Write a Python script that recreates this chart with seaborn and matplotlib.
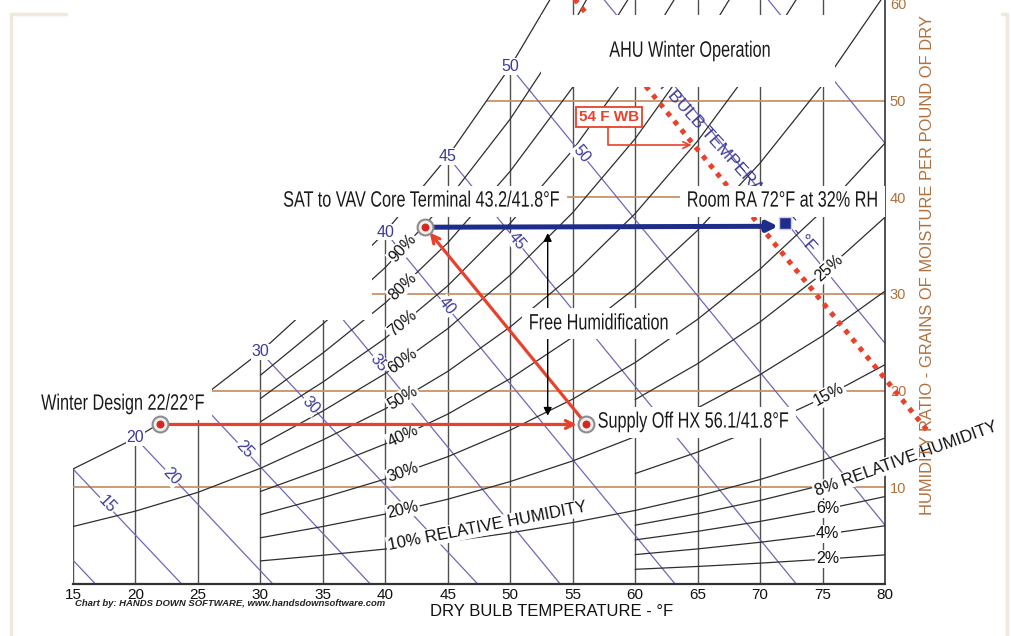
import numpy as np
import pandas as pd
import matplotlib
matplotlib.use("Agg")
import matplotlib.pyplot as plt
import seaborn as sns
from matplotlib.patches import Rectangle
from matplotlib.lines import Line2D
from matplotlib.patheffects import AbstractPathEffect
from matplotlib.transforms import Affine2D

# ---------------- data ----------------
sat_db = [15, 20, 25, 30, 35, 40, 45, 50, 55, 60, 65, 70, 75, 80]          # dry bulb, F
sat_gr = [11.9, 15.1, 19.0, 24.0, 29.9, 36.4, 44.2, 53.5, 64.4, 77.3, 92.6, 110.5, 131.4, 155.8]  # grains at saturation

rh_levels = [100, 90, 80, 70, 60, 50, 40, 30, 25, 20, 15, 10, 8, 6, 4, 2]
rh_start_db = [15, 30, 30, 30, 30, 15, 30, 30, 60, 30, 60, 30, 60, 60, 60, 60]

wb_values = [10, 15, 20, 25, 30, 35, 40, 45, 50, 55, 60]
wb_start_gr = [9.3, 11.9, 15.1, 19.0, 24.0, 29.9, 36.4, 44.2, 53.5, 64.4, 77.3]
wb_end_db = [16.8, 23.7, 31.0, 38.8, 47.4, 54.0, 63.2, 72.9, 80.0, 80.0, 80.0]
wb_end_gr = [0, 0, 0, 0, 0, 0, 0, 0, 6.1, 24.9, 45.6]

db_ticks = [15, 20, 25, 30, 35, 40, 45, 50, 55, 60, 65, 70, 75, 80]
gr_lines = [10, 20, 30, 40, 50]
gr_ticks = [10, 20, 30, 40, 50, 60]

rh_left_labels = [90, 80, 70, 60, 50, 40, 30, 20]
rh_right_rot_labels = [25, 15]
rh_right_flat_labels = [6, 4, 2]

wb_sat_labels = [20, 30, 40, 45, 50]
wb_mid_labels = [15, 20, 25, 30, 35, 40, 45, 50]
wb_mid_db = [17.7, 22.9, 28.7, 34.0, 39.5, 44.9, 50.5, 55.7]

# process points: winter design, supply off HX, SAT, room RA
proc_names = ["Winter Design", "Supply Off HX", "SAT", "Room RA"]
proc_db = [22.0, 56.1, 43.2, 72.0]
proc_gr = [16.5, 16.5, 36.9, 37.0]

# 54 F wet-bulb (dotted) line
wb54_db = [54.2, 83.5]
wb54_gr = [62.0, 15.7]

# ---------------- style ----------------
sns.set_theme(style="white")
plt.rcParams["font.family"] = ["Liberation Sans", "DejaVu Sans"]

C_DB = "#505050"
C_RH = "#2e2e2e"
C_WB = "#6f68b8"
C_WBTXT = "#3d3a9a"
C_BROWN = "#c8936c"
C_BROWNTXT = "#b0703c"
C_RED = "#e8412c"
C_NAVY = "#1f2d8a"

fig = plt.figure(figsize=(10.11, 6.36), dpi=100, facecolor="white")
ax = fig.add_axes([73 / 1011, 52 / 636, 812 / 1011, 584 / 636])
ax.set_xlim(15, 80)
ax.set_ylim(0, 60.4)
ax.set_facecolor("white")


def rh_w(db, rh):
    ws = np.interp(db, sat_db, sat_gr)
    phi = rh / 100.0
    return phi * ws / (1 + (1 - phi) * ws / 4354.0)


def disp_angle(x0, y0, x1, y1):
    (a, b), (c, d) = ax.transData.transform([(x0, y0), (x1, y1)])
    return np.degrees(np.arctan2(d - b, c - a))


# ---- dry bulb verticals ----
rows = []
for d in db_ticks[:-1]:
    top = min(np.interp(d, sat_db, sat_gr), 60.4)
    rows += [(d, 0.0, d), (d, top, d)]
df_db = pd.DataFrame(rows, columns=["db", "gr", "line"])
sns.lineplot(data=df_db, x="db", y="gr", units="line", estimator=None, sort=False,
             color=C_DB, lw=1.0, legend=False, ax=ax, zorder=1)

# ---- humidity ratio horizontals ----
rows = []
for g in gr_lines:
    start = np.interp(g, sat_gr, sat_db)
    rows += [(start, g, g), (80, g, g)]
df_gr = pd.DataFrame(rows, columns=["db", "gr", "line"])
sns.lineplot(data=df_gr, x="db", y="gr", units="line", estimator=None, sort=False,
             color=C_BROWN, lw=1.3, legend=False, ax=ax, zorder=1.2)

# ---- relative humidity curves ----
rows = []
for rh, st in zip(rh_levels, rh_start_db):
    for d in sat_db:
        if d >= st:
            rows.append((d, rh_w(d, rh), rh))
df_rh = pd.DataFrame(rows, columns=["db", "gr", "rh"])
sns.lineplot(data=df_rh, x="db", y="gr", units="rh", estimator=None, sort=False,
             color=C_RH, lw=0.9, legend=False, ax=ax, zorder=1.5)

# ---- wet bulb lines ----
rows = []
for wb, s, ed, eg in zip(wb_values, wb_start_gr, wb_end_db, wb_end_gr):
    rows += [(wb, s, wb), (ed, eg, wb)]
df_wb = pd.DataFrame(rows, columns=["db", "gr", "wb"])
sns.lineplot(data=df_wb, x="db", y="gr", units="wb", estimator=None, sort=False,
             color=C_WB, lw=0.9, legend=False, ax=ax, zorder=1.4)

# axes cosmetics (after seaborn, which sets axis labels)
ax.set_xlabel("")
ax.set_ylabel("")
for s in ["left", "top"]:
    ax.spines[s].set_visible(False)
ax.spines["bottom"].set_color("#333333")
ax.spines["bottom"].set_linewidth(1.6)
ax.spines["right"].set_color("#333333")
ax.spines["right"].set_linewidth(1.2)
ax.set_xticks(db_ticks)
ax.set_xticklabels([str(v) for v in db_ticks], fontsize=11, color="#111111")
ax.tick_params(axis="x", length=0, pad=3)
ax.yaxis.tick_right()
ax.set_yticks(gr_ticks)
ax.set_yticklabels([str(v) for v in gr_ticks], fontsize=10.5)
ax.tick_params(axis="y", length=0, pad=3.5, labelcolor=C_BROWNTXT)

# ---- WET BULB TEMPERATURE text (under title mask) ----
ang54 = disp_angle(wb54_db[0], wb54_gr[0], wb54_db[1], wb54_gr[1])
ax.text(67.4, 44.3, "WET BULB TEMPERATURE - °F", color=C_WBTXT, fontsize=12.5,
        rotation=ang54 + 3, rotation_mode="anchor", ha="center", va="center", zorder=2.4)

# ---- 54 F WB dotted line ----
ax.plot(wb54_db, wb54_gr, color=C_RED, lw=3.6, linestyle=(0, (1, 1.25)),
        dash_capstyle="butt", clip_on=False, zorder=2.9)

# ---- white masks (blank regions of the original chart) ----
ax.add_patch(Rectangle((15, 27.3), 23.9, 40, fc="white", ec="none", zorder=3))
ax.add_patch(Rectangle((52.5, 51.4), 23.5, 7.4, fc="white", ec="none", zorder=3))

# ---- RH labels ----
lbl_box = dict(boxstyle="square,pad=0.08", fc="white", ec="none")
for rh in rh_left_labels:
    x = 41.4
    a = disp_angle(x - 0.5, rh_w(x - 0.5, rh), x + 0.5, rh_w(x + 0.5, rh))
    ax.text(x, rh_w(x, rh), f"{rh}%", fontsize=11.5, color="#111111", rotation=a,
            rotation_mode="anchor", ha="center", va="center", bbox=lbl_box, zorder=4)
for rh in rh_right_rot_labels:
    x = 75.5
    a = disp_angle(x - 0.5, rh_w(x - 0.5, rh), x + 0.5, rh_w(x + 0.5, rh))
    ax.text(x, rh_w(x, rh), f"{rh}%", fontsize=11.5, color="#111111", rotation=a,
            rotation_mode="anchor", ha="center", va="center", bbox=lbl_box, zorder=4)
for rh in rh_right_flat_labels:
    x = 75.4
    ax.text(x, rh_w(x, rh), f"{rh}%", fontsize=11.5, color="#111111",
            ha="center", va="center", bbox=lbl_box, zorder=4)

a10 = disp_angle(40, rh_w(40, 10), 55, rh_w(55, 10))
ax.text(40.2, rh_w(40.2, 10) + 0.3, "10% RELATIVE HUMIDITY", fontsize=12, color="#111111",
        rotation=a10 + 3, rotation_mode="anchor", ha="left", va="center", bbox=lbl_box, zorder=4)
a8 = disp_angle(75, rh_w(75, 8), 80, rh_w(80, 8))
ax.text(74.4, rh_w(74.4, 8) - 0.5, "8% RELATIVE HUMIDITY", fontsize=12, color="#111111",
        rotation=a8 + 4, rotation_mode="anchor", ha="left", va="center", bbox=lbl_box,
        clip_on=False, zorder=2.6)

# ---- wet bulb labels ----
wbox = dict(boxstyle="square,pad=0.05", fc="white", ec="none")
for wb in wb_sat_labels:
    i = wb_values.index(wb)
    ax.text(wb, wb_start_gr[i], str(wb), fontsize=11.5, color=C_WBTXT,
            ha="center", va="center", bbox=wbox, zorder=2.95)
for wb, xd in zip(wb_mid_labels, wb_mid_db):
    i = wb_values.index(wb)
    x0, y0, x1, y1 = wb, wb_start_gr[i], wb_end_db[i], wb_end_gr[i]
    yv = y0 + (y1 - y0) * (xd - x0) / (x1 - x0)
    a = disp_angle(x0, y0, x1, y1)
    ax.text(xd, yv, str(wb), fontsize=11.5, color=C_WBTXT, rotation=a,
            rotation_mode="anchor", ha="center", va="center", bbox=wbox, zorder=2.95)

# ---- right axis title ----
ax.text(928 / 1011, 1 - 515 / 636, "HUMIDITY RATIO - GRAINS OF MOISTURE PER POUND OF DRY",
        transform=fig.transFigure, rotation=90, rotation_mode="anchor", ha="left", va="center",
        fontsize=11.9, color=C_BROWNTXT, clip_on=False, zorder=2.7)

# ---- process lines ----
ax.annotate("", xy=(proc_db[1], proc_gr[1]), xytext=(proc_db[0], proc_gr[0]),
            arrowprops=dict(arrowstyle="->", color=C_RED, lw=2.3, shrinkA=6, shrinkB=7,
                            mutation_scale=14), zorder=5)
ax.annotate("", xy=(proc_db[2], proc_gr[2]), xytext=(proc_db[1], proc_gr[1]),
            arrowprops=dict(arrowstyle="->", color=C_RED, lw=2.3, shrinkA=6, shrinkB=5,
                            mutation_scale=14), zorder=5)
ax.annotate("", xy=(proc_db[3], proc_gr[3]), xytext=(proc_db[2], proc_gr[2]),
            arrowprops=dict(arrowstyle="-|>", color=C_NAVY, lw=3.6, shrinkA=6, shrinkB=5,
                            mutation_scale=15), zorder=5)

# free humidification double arrow
ax.annotate("", xy=(53.0, 36.3), xytext=(53.0, 17.4),
            arrowprops=dict(arrowstyle="<|-|>", color="black", lw=1.0, mutation_scale=12,
                            shrinkA=0, shrinkB=0), zorder=5)

# markers (above label boxes)
ax.scatter(proc_db[:3], proc_gr[:3], s=130, facecolor="#eeeeee", edgecolor="#8c8c8c",
           linewidth=1.5, zorder=7.5)
ax.scatter(proc_db[:3], proc_gr[:3], s=22, color="#d7261e", zorder=7.6)
ax.scatter([proc_db[3]], [proc_gr[3] + 0.3], marker="s", s=70, facecolor=C_NAVY,
           edgecolor="#c8d0f0", linewidth=1.0, zorder=7.6)


# ---- condensed callout labels ----
class HCompress(AbstractPathEffect):
    """Draw text glyphs narrower (condensed look) about the text origin."""

    def __init__(self, sx):
        super().__init__()
        self.sx = sx

    def draw_path(self, renderer, gc, tpath, affine, rgbFace=None):
        renderer.draw_path(gc, tpath, Affine2D().scale(self.sx, 1.0) + affine, rgbFace)


renderer = fig.canvas.get_renderer()
SX = 0.73


def cond_label(cx, cy, s, size=16, box=True, ha="center", padx=7, boxh=31):
    t = ax.text(cx, cy, s, fontsize=size, color="#1a1a1a", ha="left", va="center",
                path_effects=[HCompress(SX)], zorder=7, clip_on=False)
    w = t.get_window_extent(renderer).width * SX
    cxd, cyd = ax.transData.transform((cx, cy))
    left = cxd - w / 2 if ha == "center" else cxd
    t.set_x(ax.transData.inverted().transform((left, cyd))[0])
    if box:
        (x0, y0) = ax.transData.inverted().transform((left - padx, cyd - boxh / 2))
        (x1, y1) = ax.transData.inverted().transform((left + w + padx, cyd + boxh / 2))
        ax.add_patch(Rectangle((x0, y0), x1 - x0, y1 - y0, fc="white", ec="none",
                               zorder=6.9, clip_on=False))
    return t


cond_label(42.9, 39.6, "SAT to VAV Core Terminal 43.2/41.8°F")
cond_label(71.8, 39.6, "Room RA 72°F at 32% RH")
cond_label(57.1, 26.9, "Free Humidification")
cond_label(19.0, 18.6, "Winter Design 22/22°F")
cond_label(57.0, 16.75, "Supply Off HX 56.1/41.8°F", ha="left")
cond_label(64.4, 55.1, "AHU Winter Operation", box=False)

# 54 F WB tag
ax.text(57.9, 48.3, "54 F WB", color=C_RED, fontweight="bold", fontsize=11,
        ha="center", va="center",
        bbox=dict(boxstyle="square,pad=0.2", fc="white", ec=C_RED, lw=1.3), zorder=7)
ax.annotate("", xy=(64.5, 45.4), xytext=(57.8, 47.3),
            arrowprops=dict(arrowstyle="->", color=C_RED, lw=1.2, mutation_scale=12,
                            shrinkA=0, shrinkB=0,
                            connectionstyle="angle,angleA=90,angleB=0,rad=0"), zorder=7)

# ---- figure texts ----
fig.text(552 / 1011, 1 - 611 / 636, "DRY BULB TEMPERATURE - °F", fontsize=12,
         color="#111111", ha="center", va="center")
fig.text(75 / 1011, 1 - 604 / 636, "Chart by: HANDS DOWN SOFTWARE, www.handsdownsoftware.com",
         fontsize=6.8, fontweight="bold", style="italic", color="#222222", ha="left", va="center")

# decorative frame corners
fig.add_artist(Line2D([11 / 1011, 11 / 1011, 66 / 1011], [0, 1 - 14 / 636, 1 - 14 / 636],
                      color="#f1e7da", lw=2.5, transform=fig.transFigure))
fig.add_artist(Line2D([1002 / 1011, 1007 / 1011, 1007 / 1011], [1 - 14 / 636, 1 - 14 / 636, 0],
                      color="#f1e7da", lw=2.5, transform=fig.transFigure))

fig.savefig("out.png", dpi=100, facecolor="white")
